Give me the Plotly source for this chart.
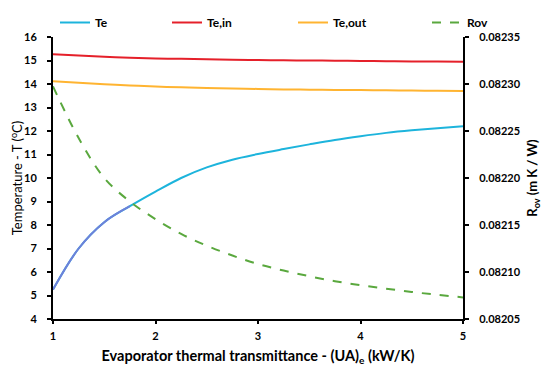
import plotly.graph_objects as go

# Data
ua = [1.0, 1.25, 1.5, 1.75, 2.0, 2.25, 2.5, 2.75, 3.0, 3.25, 3.5, 3.75, 4.0, 4.25, 4.5, 4.75, 5.0]
te = [5.25, 7.0, 8.12, 8.8, 9.42, 10.0, 10.45, 10.78, 11.02, 11.23, 11.43, 11.62, 11.78,
      11.92, 12.03, 12.12, 12.2]
te_in = [15.27, 15.21, 15.16, 15.12, 15.09, 15.07, 15.05, 15.03, 15.02, 15.01, 15.0, 14.99,
         14.98, 14.97, 14.96, 14.955, 14.95]
te_out = [14.12, 14.05, 13.99, 13.94, 13.89, 13.86, 13.83, 13.81, 13.79, 13.77, 13.76, 13.75,
          13.74, 13.73, 13.72, 13.71, 13.7]
rov = [0.0822975, 0.0822425, 0.0822, 0.082175, 0.08215625, 0.0821405, 0.082128, 0.0821175,
       0.0821085, 0.0821015, 0.0820955, 0.08209025, 0.082086, 0.08208225, 0.08207875,
       0.08207575, 0.082073]

x_ticks = [1, 2, 3, 4, 5]

FONT = "Lato"
SM = 1.0
W, H = 542, 363  # page body adds an 8px margin in the 550x371 window

fig = go.Figure()
fig.add_trace(go.Scatter(x=ua, y=te, name="Te", mode="lines", legend="legend",
                         line=dict(color="#1db4dc", width=2, shape="spline", smoothing=SM)))
fig.add_trace(go.Scatter(x=ua[:4], y=te[:4], name="Te", mode="lines", showlegend=False,
                         line=dict(color="#6f80da", width=2, shape="spline", smoothing=SM)))
fig.add_trace(go.Scatter(x=ua, y=te_in, name="Te,in", mode="lines", legend="legend2",
                         line=dict(color="#e5202a", width=2, shape="spline", smoothing=SM)))
fig.add_trace(go.Scatter(x=ua, y=te_out, name="Te,out", mode="lines", legend="legend3",
                         line=dict(color="#ffb431", width=2, shape="spline", smoothing=SM)))
fig.add_trace(go.Scatter(x=ua, y=rov, name="Rov", mode="lines", yaxis="y2", legend="legend4",
                         line=dict(color="#5aa83e", width=2, dash="dash", shape="spline", smoothing=SM)))


def leg(xpx):
    return dict(orientation="h", xref="container", yref="container",
                x=xpx / W, y=1.0, xanchor="left", yanchor="top",
                itemwidth=30, tracegroupgap=0,
                font=dict(family=FONT, size=12, color="black", weight="bold"),
                bgcolor="rgba(0,0,0,0)")


fig.update_layout(
    width=W, height=H,
    margin=dict(l=45, r=87, t=24, b=52),
    paper_bgcolor="white", plot_bgcolor="white",
    font=dict(family=FONT, size=11, color="black"),
    showlegend=True,
    legend=leg(47),
    legend2=leg(159),
    legend3=leg(285),
    legend4=leg(419),
    xaxis=dict(range=[1, 5], tickvals=x_ticks, showgrid=False, zeroline=False,
               showline=True, linecolor="black", linewidth=2, automargin=False,
               ticks="outside", ticklen=3, tickwidth=2, tickcolor="black",
               ticklabelstandoff=3,
               tickfont=dict(family=FONT, size=11, weight="bold"),
               title=dict(text="Evaporator thermal transmittance - (UA)<sub>e</sub> (kW/K)",
                          font=dict(family=FONT, size=14.5, weight="bold"), standoff=10)),
    yaxis=dict(range=[4, 16], dtick=1, showgrid=False, zeroline=False,
               showline=True, linecolor="black", linewidth=2, automargin=False,
               ticks="outside", ticklen=4, tickwidth=2, tickcolor="black",
               ticklabelstandoff=8,
               tickfont=dict(family=FONT, size=11, weight="bold"),
               title=dict(text="Temperature - T (<sup>o</sup>C)",
                          font=dict(family=FONT, size=13), standoff=4)),
    yaxis2=dict(range=[0.08205, 0.08235], dtick=0.00005, tickformat=".5f",
                overlaying="y", side="right", showgrid=False, zeroline=False,
                showline=True, linecolor="black", linewidth=2, automargin=False,
                ticks="outside", ticklen=4, tickwidth=2, tickcolor="black",
                ticklabelstandoff=8,
                tickfont=dict(family=FONT, size=11, weight="bold"),
                title=dict(text="R<sub>ov</sub> (m K / W)",
                           font=dict(family=FONT, size=13, weight="bold"), standoff=8)),
)

fig.write_html("out.html")
